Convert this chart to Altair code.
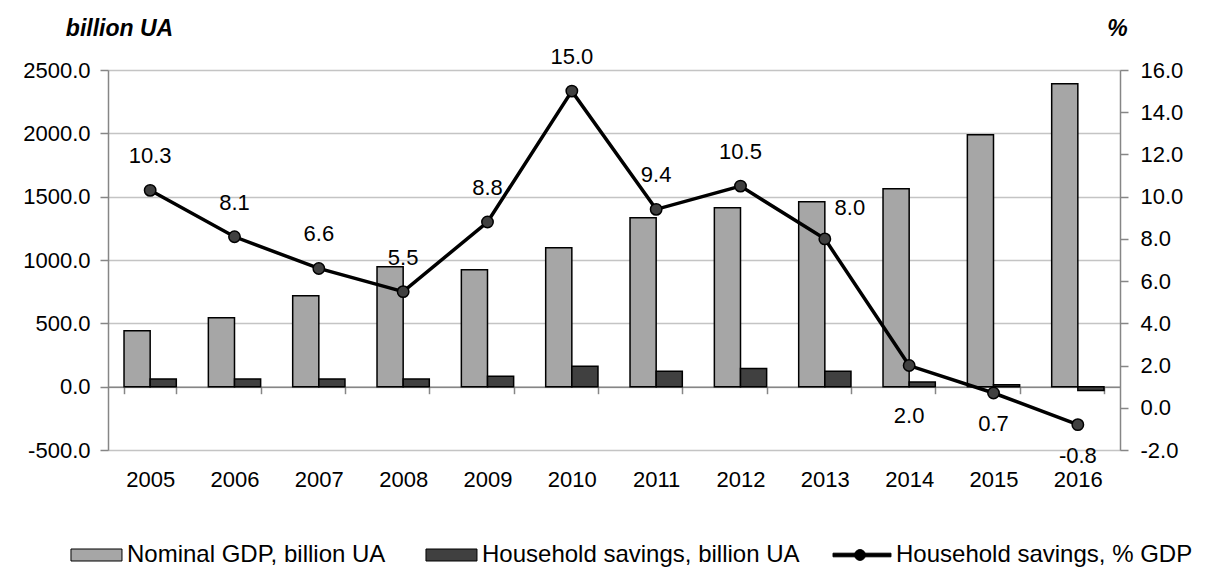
import altair as alt
import pandas as pd

years = ["2005", "2006", "2007", "2008", "2009", "2010", "2011", "2012", "2013", "2014", "2015", "2016"]
gdp = [442, 545, 718, 947, 923, 1097, 1334, 1413, 1460, 1563, 1989, 2392]
savings = [60, 60, 60, 60, 82, 161, 121, 143, 121, 37, 16, -30]
savings_pct = [10.3, 8.1, 6.6, 5.5, 8.8, 15.0, 9.4, 10.5, 8.0, 2.0, 0.7, -0.8]
series_names = ["Nominal GDP, billion UA", "Household savings, billion UA", "Household savings, % GDP"]
series_colors = ["#a6a6a6", "#404040", "#000000"]
left_ticks = [-500, 0, 500, 1000, 1500, 2000, 2500]
right_ticks = [-2, 0, 2, 4, 6, 8, 10, 12, 14, 16]

FONT = "Liberation Sans"
AXIS_GRAY = "#868686"
HYPHEN_FMT = "replace(format(datum.value, '.1f'), '\u2212', '-')"

bars_df = pd.DataFrame({
    "year": years * 2,
    "series": [series_names[0]] * len(years) + [series_names[1]] * len(years),
    "value": gdp + savings,
})
line_df = pd.DataFrame({"year": years, "pct": savings_pct})
legend_df = pd.DataFrame({"series": series_names})

X = alt.X(
    "year:N",
    scale=alt.Scale(domain=years, paddingInner=0.38, paddingOuter=0.19),
    axis=alt.Axis(
        title=None, offset=-63.3, domainColor=AXIS_GRAY, domainWidth=1.5,
        tickColor=AXIS_GRAY, tickWidth=1.5, tickSize=7, tickBand="extent",
        labelPadding=76, labelFontSize=22, labelAngle=0, grid=False,
    ),
)

# legend key shapes (symbol box is 12px; 1 unit = 6px)
rect_path = "M-0.17,-1H8.33V1H-0.17Z"
line_path = "M-1.33,-0.3H8.33V0.3H-1.33Z M4.07,0A0.9,0.9,0,1,1,2.27,0A0.9,0.9,0,1,1,4.07,0Z"

legend_def = alt.Legend(
    title=None, orient="none", legendX=-48, legendY=473, direction="horizontal",
    labelFontSize=24, labelFont=FONT, labelColor="black", symbolSize=144,
    symbolStrokeColor="black", symbolStrokeWidth=1, columnPadding=29, labelOffset=43,
    labelLimit=500,
)
color_scale = alt.Scale(domain=series_names, range=series_colors)
shape_scale = alt.Scale(domain=series_names, range=[rect_path, rect_path, line_path])

bars = alt.Chart(bars_df).mark_bar(stroke="black", strokeWidth=1.5).encode(
    x=X,
    xOffset=alt.XOffset("series:N", scale=alt.Scale(domain=series_names[:2], paddingInner=0, paddingOuter=0)),
    y=alt.Y(
        "value:Q",
        scale=alt.Scale(domain=[-500, 2500], nice=False, zero=False),
        axis=alt.Axis(
            values=left_ticks, labelExpr=HYPHEN_FMT, title="billion UA", titleAngle=0,
            titleAlign="center", titleBaseline="middle", titleX=11, titleY=-42,
            titleFontSize=23, titleFontStyle="italic", titleFontWeight="bold",
            grid=True, gridColor="#c4c4c4", gridWidth=1.5,
            domainColor=AXIS_GRAY, domainWidth=1.5, tickColor=AXIS_GRAY, tickWidth=1.5,
            tickSize=8, labelPadding=10, labelFontSize=22,
        ),
    ),
    color=alt.Color("series:N", scale=color_scale, legend=legend_def),
)

legend_layer = alt.Chart(legend_df).mark_point(filled=True, opacity=1).encode(
    color=alt.Color("series:N", scale=color_scale, legend=legend_def),
    shape=alt.Shape("series:N", scale=shape_scale, legend=legend_def),
).transform_filter("false")

YR = alt.Y(
    "pct:Q",
    scale=alt.Scale(domain=[-2, 16], nice=False, zero=False),
    axis=alt.Axis(
        orient="right", values=right_ticks, labelExpr=HYPHEN_FMT, title="%", titleAngle=0,
        titleAlign="center", titleBaseline="middle", titleX=-3, titleY=-42,
        titleFontSize=23, titleFontStyle="italic", titleFontWeight="bold",
        grid=False, domainColor=AXIS_GRAY, domainWidth=1.5, tickColor=AXIS_GRAY,
        tickWidth=1.5, tickSize=8, labelPadding=12, labelFontSize=22,
    ),
)

line = alt.Chart(line_df).mark_line(color="black", strokeWidth=3.5).encode(x=X, y=YR)
pts = alt.Chart(line_df).mark_point(
    filled=True, fill="#404040", stroke="black", strokeWidth=1.5, size=130, opacity=1
).encode(x=X, y=YR)

def labels(yrs, dx, dy):
    return alt.Chart(line_df).transform_filter(
        alt.FieldOneOfPredicate(field="year", oneOf=yrs)
    ).transform_calculate(
        lab="replace(format(datum.pct, '.1f'), '\u2212', '-')"
    ).mark_text(
        font=FONT, fontSize=22, color="black", dx=dx, dy=dy, baseline="middle", align="center"
    ).encode(x=X, y=YR, text="lab:N")

lab_above = labels(years[:8], 0, -34)
lab_right = labels(["2013"], 25, -31)
lab_below1 = labels(["2014"], 0, 50)
lab_below2 = labels(["2015", "2016"], 0, 31)

inner = alt.layer(line, pts, lab_above, lab_right, lab_below1, lab_below2)

chart = alt.layer(bars, legend_layer, inner).resolve_scale(y="independent").properties(
    width=1012, height=380,
    autosize=alt.AutoSizeParams(type="none"),
    padding={"left": 100, "top": 62, "right": 79, "bottom": 117},
).configure_view(stroke=None).configure_axis(
    labelFont=FONT, titleFont=FONT, labelColor="black", titleColor="black"
).configure(background="white")

chart.save("out.html", embed_options={"renderer": "svg", "actions": False})
